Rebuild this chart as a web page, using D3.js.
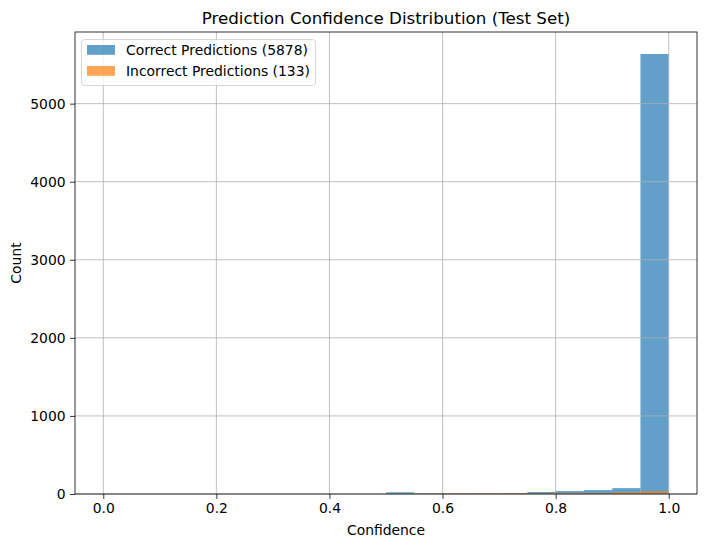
<!DOCTYPE html>
<html>
  <head>
    <meta charset="utf-8">
    <script src="https://d3js.org/d3.v7.min.js"></script>
    <title>Prediction Confidence Distribution</title>
    <style>
      body { margin: 0; background: #fff; }
      text { font-family: "DejaVu Sans", sans-serif; fill: #000; }
    </style>
  </head>
  <body>
    <svg width="704" height="547"></svg>
    <script>
      // Histogram bins (left edges, width 0.05) and counts
      const binStarts = [0.50, 0.55, 0.60, 0.65, 0.70, 0.75, 0.80, 0.85, 0.90, 0.95];
      const binWidth = 0.05;
      const correctCounts = [22, 6, 7, 8, 10, 26, 38, 50, 75, 5636];
      const incorrectCounts = [3, 6, 8, 9, 10, 12, 14, 14, 23, 34];
      const xTicks = [0.0, 0.2, 0.4, 0.6, 0.8, 1.0];
      const yTicks = [0, 1000, 2000, 3000, 4000, 5000];
      const legendLabels = ['Correct Predictions (5878)', 'Incorrect Predictions (133)'];
      const colors = ['#1f77b4', '#ff7f0e'];

      const svg = d3.select('svg');
      const plotLeft = 75, plotRight = 697, plotTop = 32, plotBottom = 494;

      const maxCount = d3.max(correctCounts.concat(incorrectCounts));
      const xScale = d3.scaleLinear().domain([-0.05, 1.05]).range([plotLeft, plotRight]);
      const yScale = d3.scaleLinear().domain([0, maxCount * 1.05]).range([plotBottom, plotTop]);

      // bars: correct first, then incorrect on top
      [correctCounts, incorrectCounts].forEach((counts, i) => {
        svg.append('g').selectAll('rect').data(counts)
          .enter().append('rect')
            .attr('x', (d, j) => xScale(binStarts[j]))
            .attr('width', (d, j) => xScale(binStarts[j] + binWidth) - xScale(binStarts[j]))
            .attr('y', d => yScale(d))
            .attr('height', d => plotBottom - yScale(d))
            .attr('fill', colors[i])
            .attr('fill-opacity', 0.7);
      });

      // grid lines sit above the bars
      const grid = svg.append('g').attr('stroke', '#b0b0b0').attr('stroke-width', 0.8);
      grid.selectAll('.gx').data(xTicks).enter().append('line')
        .attr('x1', d => xScale(d)).attr('x2', d => xScale(d))
        .attr('y1', plotTop).attr('y2', plotBottom);
      grid.selectAll('.gy').data(yTicks).enter().append('line')
        .attr('x1', plotLeft).attr('x2', plotRight)
        .attr('y1', d => yScale(d)).attr('y2', d => yScale(d));

      // axes
      const xAxis = svg.append('g').attr('transform', `translate(0,${plotBottom})`)
        .call(d3.axisBottom(xScale).tickValues(xTicks).tickFormat(d3.format('.1f'))
          .tickSizeOuter(0).tickSize(4.9).tickPadding(4.5));
      const yAxis = svg.append('g').attr('transform', `translate(${plotLeft},0)`)
        .call(d3.axisLeft(yScale).tickValues(yTicks).tickFormat(d3.format('d'))
          .tickSizeOuter(0).tickSize(4.9).tickPadding(4.5));
      [xAxis, yAxis].forEach(a => {
        a.select('.domain').remove();
        a.selectAll('line').attr('stroke', '#000').attr('stroke-width', 0.8);
        a.selectAll('text').attr('font-size', 13.9).attr('font-family', 'DejaVu Sans');
      });

      // frame
      svg.append('rect')
        .attr('x', plotLeft).attr('y', plotTop)
        .attr('width', plotRight - plotLeft).attr('height', plotBottom - plotTop)
        .attr('fill', 'none').attr('stroke', '#000').attr('stroke-width', 0.8);

      // title and labels
      svg.append('text').attr('x', (plotLeft + plotRight) / 2).attr('y', 24)
        .attr('text-anchor', 'middle').attr('font-size', 16.7)
        .text('Prediction Confidence Distribution (Test Set)');
      svg.append('text').attr('x', (plotLeft + plotRight) / 2).attr('y', 535)
        .attr('text-anchor', 'middle').attr('font-size', 13.9)
        .text('Confidence');
      svg.append('text').attr('transform', `translate(21,${(plotTop + plotBottom) / 2}) rotate(-90)`)
        .attr('text-anchor', 'middle').attr('font-size', 13.9)
        .text('Count');

      // legend
      const legend = svg.append('g');
      legend.append('rect')
        .attr('x', 81.5).attr('y', 39.5).attr('width', 234).attr('height', 46)
        .attr('rx', 3).attr('fill', '#fff').attr('fill-opacity', 0.8)
        .attr('stroke', '#cccccc').attr('stroke-width', 0.8);
      legendLabels.forEach((label, i) => {
        legend.append('rect')
          .attr('x', 87).attr('y', 45 + i * 21).attr('width', 28).attr('height', 9.8)
          .attr('fill', colors[i]).attr('fill-opacity', 0.7);
        legend.append('text')
          .attr('x', 126).attr('y', 55 + i * 21).attr('font-size', 13.9)
          .text(label);
      });
    </script>
  </body>
</html>
